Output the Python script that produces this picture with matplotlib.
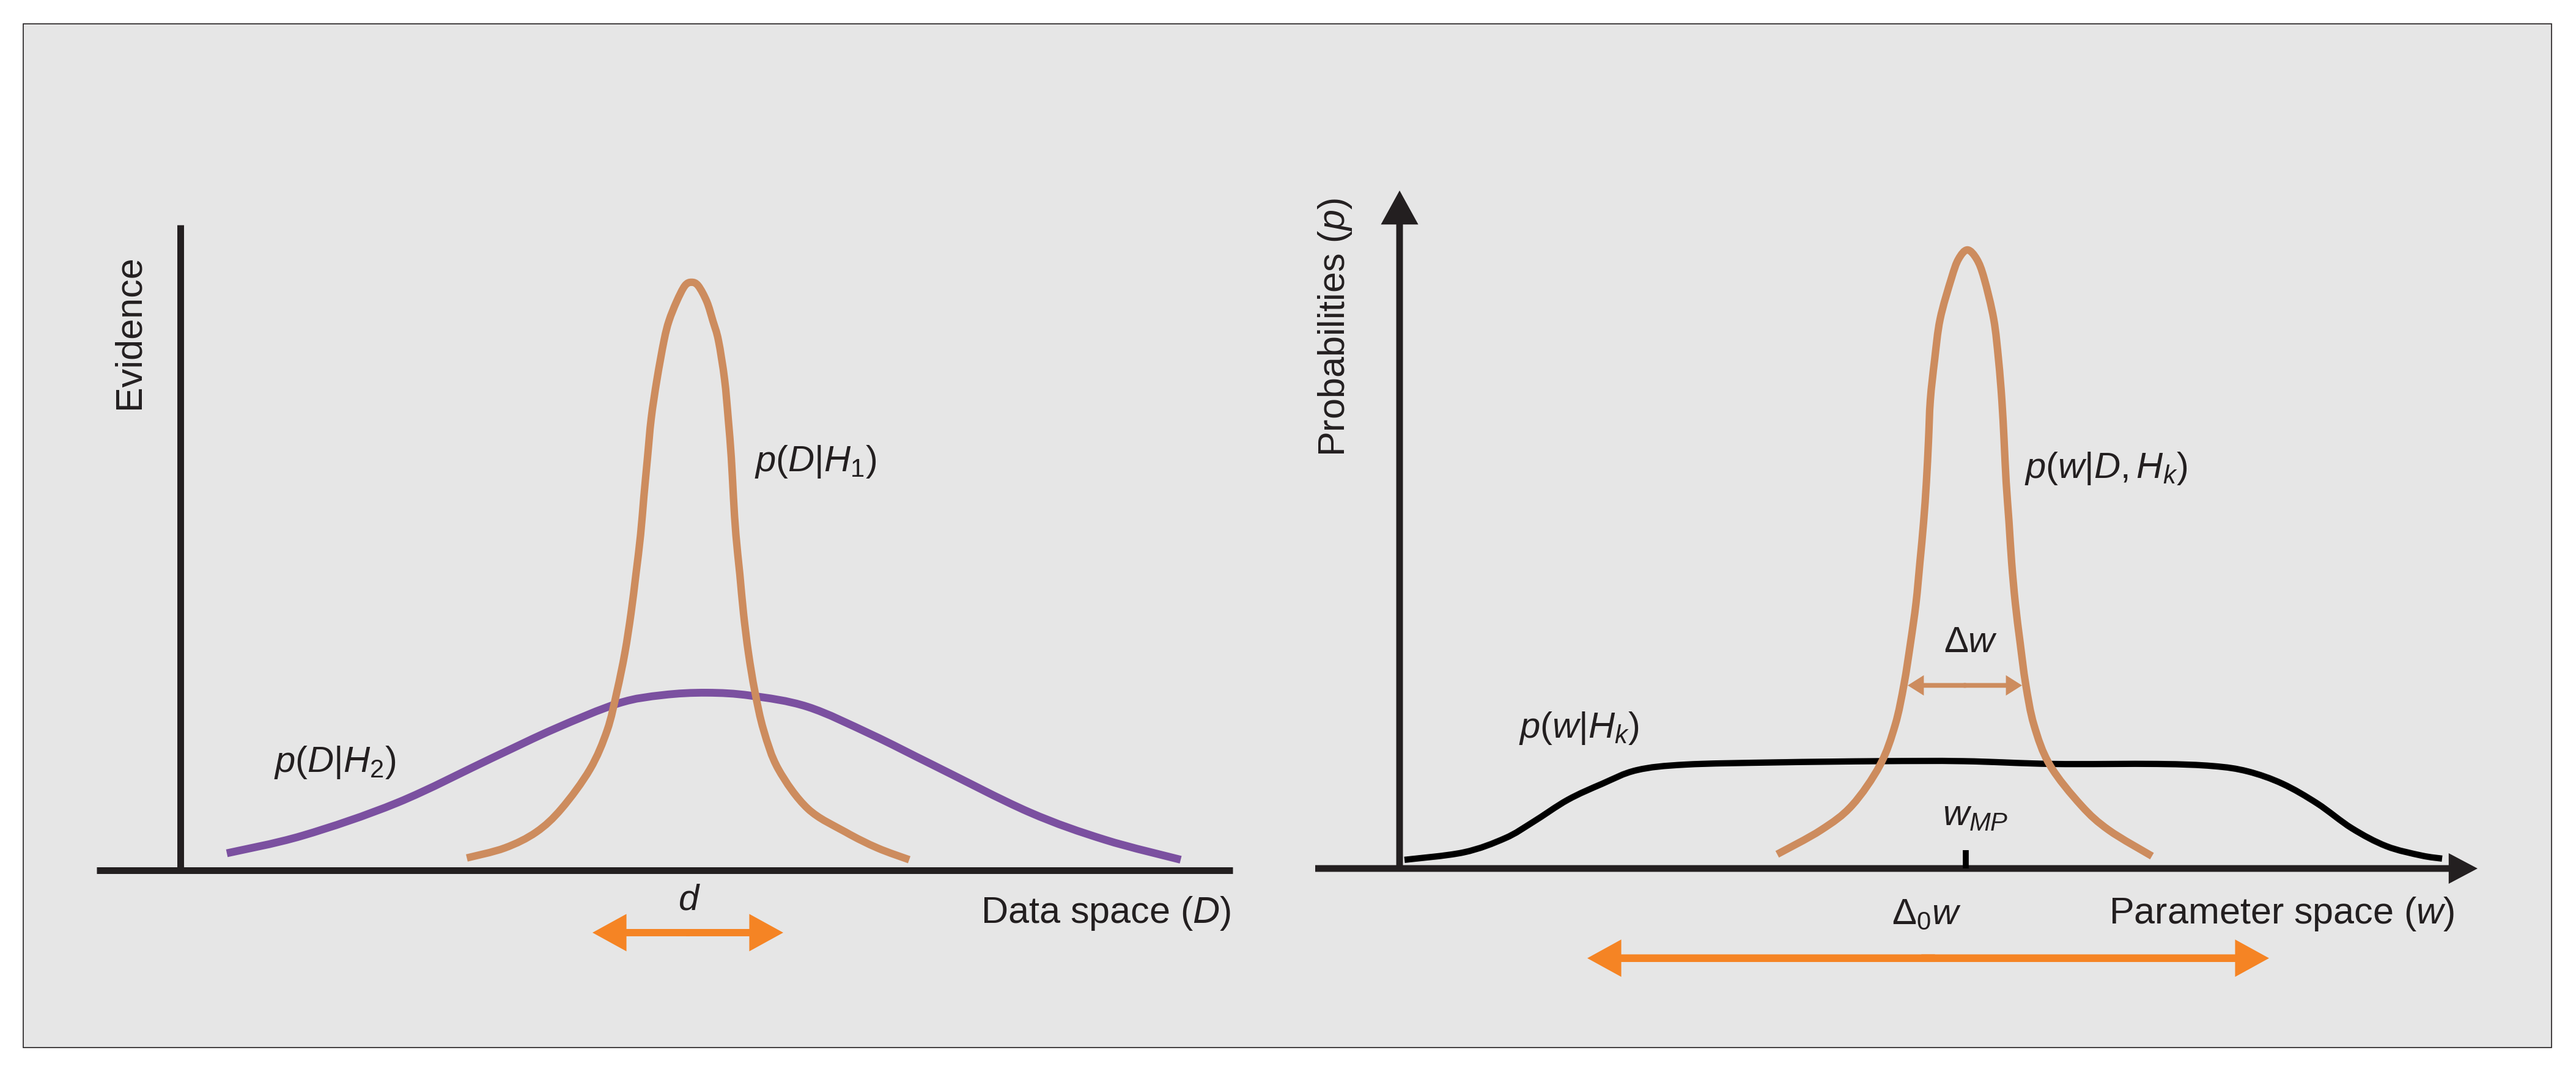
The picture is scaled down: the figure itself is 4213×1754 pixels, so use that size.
import matplotlib
matplotlib.use("Agg")
import matplotlib.pyplot as plt
from matplotlib.patches import Rectangle, PathPatch
from matplotlib.path import Path

# ---------------- data ----------------
# Left panel: evidence curves over data space D
h1_x = [4.685, 5.305, 5.82, 6.235, 6.70, 6.98, 7.14, 7.27, 7.37, 7.45, 7.526, 7.58, 7.64,
        7.70, 7.795, 7.91, 7.99, 8.115, 8.25, 8.36, 8.47, 8.61, 8.71, 8.80, 8.90, 8.96, 9.01,
        9.045, 9.086, 9.15, 9.21, 9.29, 9.396, 9.54, 9.78, 10.26, 10.88, 11.40, 11.92]
h1_y = [0.021, 0.038, 0.065, 0.105, 0.172, 0.238, 0.304, 0.370, 0.437, 0.503, 0.570, 0.635, 0.702,
        0.768, 0.835, 0.901, 0.934, 0.967, 0.994, 1.000, 0.994, 0.967, 0.934, 0.901, 0.835, 0.768, 0.702,
        0.635, 0.570, 0.503, 0.437, 0.370, 0.304, 0.238, 0.172, 0.105, 0.065, 0.038, 0.018]

h2_x = [0.76, 2.00, 3.55, 5.10, 6.13, 7.165, 7.89, 8.61, 9.33, 10.26, 11.30, 12.33, 13.88, 15.12, 16.36]
h2_y = [0.029, 0.059, 0.115, 0.191, 0.241, 0.284, 0.298, 0.302, 0.297, 0.278, 0.231, 0.178, 0.099, 0.052, 0.018]

# Right panel: posterior and prior over parameter space w
post_x = [6.176, 6.89, 7.40, 7.856, 8.105, 8.25, 8.355, 8.446, 8.51, 8.57, 8.616, 8.65, 8.68,
          8.75, 8.84, 9.025, 9.14, 9.286, 9.44, 9.56, 9.717, 9.796, 9.85, 9.887, 9.92, 9.967,
          10.01, 10.07, 10.15, 10.24, 10.375, 10.636, 11.147, 11.60, 12.305]
post_y = [0.023, 0.062, 0.102, 0.167, 0.232, 0.298, 0.364, 0.429, 0.495, 0.560, 0.625, 0.691, 0.757,
          0.822, 0.888, 0.954, 0.985, 1.000, 0.985, 0.954, 0.888, 0.822, 0.757, 0.691, 0.625, 0.560,
          0.495, 0.429, 0.364, 0.298, 0.232, 0.167, 0.102, 0.062, 0.020]

prior_x = [0.08, 1.045, 1.726, 2.18, 2.75, 3.315, 3.88, 4.68, 6.15, 7.856, 9.22, 10.69, 12.396,
           13.30, 13.87, 14.44, 15.01, 15.574, 16.14, 16.71, 17.05]
prior_y = [0.014, 0.026, 0.049, 0.075, 0.111, 0.137, 0.159, 0.168, 0.1715, 0.1735, 0.1735, 0.169, 0.169,
           0.1656, 0.157, 0.137, 0.105, 0.065, 0.036, 0.021, 0.016]

# annotation spans / positions
d_span = (6.74, 9.86)          # width arrow "d" (left panel)
d_level = -0.106
dw_span = (8.31, 10.18)        # posterior width arrow
dw_level = 0.296
d0w_span = (3.07, 14.22)       # prior width arrow
d0w_level = -0.145
w_mp = 9.26                    # most probable w
w_mp_tick = 0.03

left_xaxis = (-1.37, 17.21)
left_yaxis_top = 1.098
right_xaxis = (-1.38, 17.63)
right_yaxis_top = 1.096

# ---------------- style ----------------
plt.rcParams['font.family'] = ['Liberation Sans', 'DejaVu Sans']
plt.rcParams['mathtext.fontset'] = 'custom'
plt.rcParams['mathtext.rm'] = 'Liberation Sans'
plt.rcParams['mathtext.it'] = 'Liberation Sans:italic'
plt.rcParams['mathtext.bf'] = 'Liberation Sans:bold'
plt.rcParams['mathtext.sf'] = 'Liberation Sans'

INK = '#231f20'
ORANGE_CURVE = '#cd8c5e'
PURPLE = '#7b50a0'
BRIGHT = '#f58424'
BG = '#e6e6e6'
FS_AX = 44
FS_LBL = 43

W, H = 4213, 1754
fig = plt.figure(figsize=(W / 100, H / 100), dpi=100)
fig.patch.set_facecolor('white')

# grey panel with thin frame
fig.add_artist(Rectangle((38 / W, 1 - 1714 / H), (4173 - 38) / W, (1714 - 39) / H,
                         transform=fig.transFigure, facecolor=BG, edgecolor=INK,
                         linewidth=1.2, zorder=-5))

ax1 = fig.add_axes([0, 0, 2106 / W, 1])
ax2 = fig.add_axes([2106 / W, 0, (W - 2106) / W, 1])
ax1.set_xlim(-2.95, 18.11)
ax1.set_ylim(-0.343, 1.480)
ax2.set_xlim(-1.83, 19.24)
ax2.set_ylim(-0.329, 1.404)
for ax in (ax1, ax2):
    ax.patch.set_visible(False)
    ax.set_xticks([])
    ax.set_yticks([])
    for s in ax.spines.values():
        s.set_visible(False)


def smooth_curve(ax, xs, ys, color, lw, z):
    """Draw a smooth (Catmull-Rom / cubic Bezier) stroke through the read points."""
    pts = list(zip(xs, ys))
    n = len(pts)
    verts = [pts[0]]
    codes = [Path.MOVETO]
    for i in range(n - 1):
        p0 = pts[i - 1] if i > 0 else pts[i]
        p1 = pts[i]
        p2 = pts[i + 1]
        p3 = pts[i + 2] if i + 2 < n else pts[i + 1]
        c1 = (p1[0] + (p2[0] - p0[0]) / 6, p1[1] + (p2[1] - p0[1]) / 6)
        c2 = (p2[0] - (p3[0] - p1[0]) / 6, p2[1] - (p3[1] - p1[1]) / 6)
        verts += [c1, c2, p2]
        codes += [Path.CURVE4] * 3
    patch = PathPatch(Path(verts, codes), facecolor='none', edgecolor=color, linewidth=lw,
                      capstyle='butt', joinstyle='round', zorder=z)
    ax.add_patch(patch)


def arrow(ax, start, end, color, hl, hw, tw, z=3):
    ax.annotate('', xy=end, xytext=start, xycoords='data', textcoords='data',
                arrowprops=dict(arrowstyle=f'simple,head_length={hl},head_width={hw},tail_width={tw}',
                                mutation_scale=1, facecolor=color, edgecolor='none', linewidth=0,
                                shrinkA=0, shrinkB=0),
                zorder=z)


def double_arrow(ax, span, level, color, hl, hw, tw):
    a, b = span
    mid = (a + b) / 2
    eps = (b - a) * 0.01
    arrow(ax, (mid + eps, level), (a, level), color, hl, hw, tw)
    arrow(ax, (mid - eps, level), (b, level), color, hl, hw, tw)


# ---------------- left panel ----------------
ax1.spines['left'].set_visible(True)
ax1.spines['bottom'].set_visible(True)
ax1.spines['left'].set_position(('data', 0))
ax1.spines['bottom'].set_position(('data', 0))
ax1.spines['left'].set_bounds(0, left_yaxis_top)
ax1.spines['bottom'].set_bounds(*left_xaxis)
for k in ('left', 'bottom'):
    ax1.spines[k].set_linewidth(7.9)
    ax1.spines[k].set_color(INK)
    ax1.spines[k].set_capstyle('butt')

smooth_curve(ax1, h2_x, h2_y, PURPLE, 9.2, 2)
smooth_curve(ax1, h1_x, h1_y, ORANGE_CURVE, 8.8, 3)

double_arrow(ax1, d_span, d_level, BRIGHT, 40, 44, 8.6)

ax1.text(-0.83, 0.916, 'Evidence', rotation=90, ha='center', va='center', fontsize=FS_AX, color=INK)
ax1.text(9.39, 0.695, r'$p(D|H_{\mathit{1}})$', ha='left', va='center', fontsize=FS_LBL, color=INK)
ax1.text(1.53, 0.183, r'$p(D|H_{\mathit{2}})$', ha='left', va='center', fontsize=FS_LBL, color=INK)
ax1.text(8.32, -0.051, r'$d$', ha='center', va='center', fontsize=FS_LBL, color=INK)
ax1.text(17.18, -0.073, r'Data space ($D$)', ha='right', va='center', fontsize=FS_AX, color=INK)

# ---------------- right panel ----------------
arrow(ax2, (right_xaxis[0], 0), (right_xaxis[1], 0), INK, 34, 36, 7.9, z=4)
arrow(ax2, (0, 0), (0, right_yaxis_top), INK, 40, 44, 7.9, z=4)

smooth_curve(ax2, prior_x, prior_y, 'black', 7.4, 2)
smooth_curve(ax2, post_x, post_y, ORANGE_CURVE, 8.8, 3)
ax2.plot([w_mp, w_mp], [0, w_mp_tick], color='black', lw=7, solid_capstyle='butt', zorder=4)

double_arrow(ax2, dw_span, dw_level, ORANGE_CURVE, 19, 24, 5.6)
double_arrow(ax2, d0w_span, d0w_level, BRIGHT, 40, 44, 9.0)

ax2.text(-1.06, 0.875, r'Probabilities ($p$)', rotation=90, ha='center', va='center', fontsize=FS_AX, color=INK)
ax2.text(10.22, 0.647, r'$p(w|D,H_k)$', ha='left', va='center', fontsize=FS_LBL, color=INK)
ax2.text(1.95, 0.227, r'$p(w|H_k)$', ha='left', va='center', fontsize=FS_LBL, color=INK)
ax2.text(9.34, 0.365, r'$\Delta w$', ha='center', va='center', fontsize=FS_LBL, color=INK)
ax2.text(8.88, 0.085, r'$w_{MP}$', ha='left', va='center', fontsize=FS_LBL, color=INK)
ax2.text(8.62, -0.074, r'$\Delta_{\mathit{0}}w$', ha='center', va='center', fontsize=FS_LBL, color=INK)
ax2.text(17.25, -0.074, r'Parameter space ($w$)', ha='right', va='center', fontsize=FS_AX, color=INK)

fig.savefig('out.png', dpi=100, facecolor='white')
